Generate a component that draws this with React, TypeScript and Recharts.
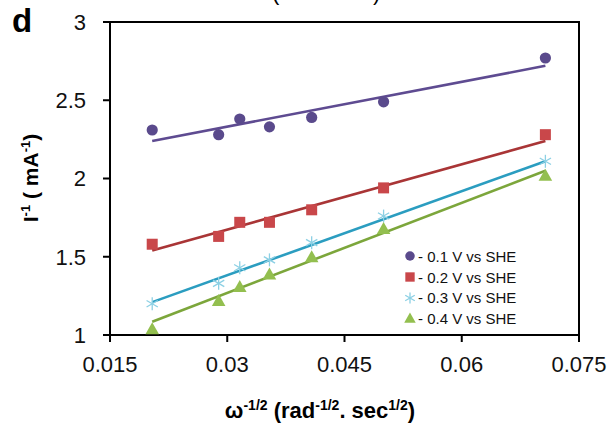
import React from 'react';
import { ScatterChart, Scatter, XAxis, YAxis, ReferenceArea } from 'recharts';

// inverse square root of rotation rate for each run
const omegaInvSqrt = [0.0204, 0.0289, 0.0316, 0.0354, 0.0408, 0.05, 0.0707];

// inverse limiting current (mA^-1) at each potential
const iInv01 = [2.31, 2.28, 2.38, 2.33, 2.39, 2.49, 2.77];
const iInv02 = [1.58, 1.63, 1.72, 1.72, 1.8, 1.94, 2.28];
const iInv03 = [1.2, 1.33, 1.43, 1.48, 1.59, 1.76, 2.11];
const iInv04 = [1.04, 1.22, 1.31, 1.39, 1.5, 1.68, 2.02];

// linear fit values at the first and last rotation rate
const fitX = [0.0204, 0.0707];
const fit01 = [2.24, 2.72];
const fit02 = [1.54, 2.24];
const fit03 = [1.21, 2.11];
const fit04 = [1.085, 2.05];

const seriesNames = ['- 0.1 V vs SHE', '- 0.2 V vs SHE', '- 0.3 V vs SHE', '- 0.4 V vs SHE'];
const xTicks = [0.015, 0.03, 0.045, 0.06, 0.075];
const yTicks = [1, 1.5, 2, 2.5, 3];

const toPoints = (xs: number[], ys: number[]) => xs.map((x, i) => ({ x, y: ys[i] }));

const markerColors = ['#5A4A8C', '#C9474A', '#8CD0E4', '#93BF4F'];
const lineColors = ['#5E4B91', '#A93536', '#2B9DC0', '#7CA63B'];

const FONT = '"Liberation Sans", Arial, sans-serif';

const Marker = ({ kind, cx, cy, color, s = 1 }: any) => {
  if (cx == null || cy == null) return null;
  switch (kind) {
    case 0:
      return <circle cx={cx} cy={cy} r={5.6 * s} fill={color} />;
    case 1:
      return <rect x={cx - 5.5 * s} y={cy - 5.5 * s} width={11 * s} height={11 * s} fill={color} />;
    case 2: {
      const r = 6.5 * s;
      const d = r * 0.866;
      return (
        <g stroke={color} strokeWidth={1.3}>
          <line x1={cx} y1={cy - r} x2={cx} y2={cy + r} />
          <line x1={cx - d} y1={cy - r / 2} x2={cx + d} y2={cy + r / 2} />
          <line x1={cx - d} y1={cy + r / 2} x2={cx + d} y2={cy - r / 2} />
        </g>
      );
    }
    default:
      return (
        <polygon
          points={`${cx},${cy - 6.5 * s} ${cx + 6.8 * s},${cy + 5.5 * s} ${cx - 6.8 * s},${cy + 5.5 * s}`}
          fill={color}
        />
      );
  }
};

const LegendBox = () => (
  <div style={{ position: 'absolute', left: 402, top: 246, fontFamily: FONT, fontSize: 15, color: '#111' }}>
    {seriesNames.map((name, i) => (
      <div key={name} style={{ display: 'flex', alignItems: 'center', height: 20.7 }}>
        <svg width={16} height={16} style={{ marginRight: 0 }}>
          <Marker kind={i} cx={8} cy={8} color={markerColors[i]} s={0.85} />
        </svg>
        <span>{name}</span>
      </div>
    ))}
  </div>
);

export default function App() {
  const measured = [iInv01, iInv02, iInv03, iInv04].map((ys) => toPoints(omegaInvSqrt, ys));
  const fits = [fit01, fit02, fit03, fit04].map((ys) => toPoints(fitX, ys));

  return (
    <div style={{ position: 'absolute', left: 0, top: 0, width: 611, height: 431, background: '#fff' }}>
      <ScatterChart width={611} height={431} margin={{ top: 22, right: 32, bottom: 0, left: 0 }}>
        <XAxis
          type="number"
          dataKey="x"
          domain={[0.015, 0.075]}
          ticks={xTicks}
          height={96}
          stroke="#000"
          strokeWidth={2}
          tickSize={7}
          tickMargin={14}
          tick={{ fill: '#111', fontSize: 22, fontFamily: FONT }}
        />
        <YAxis
          type="number"
          dataKey="y"
          domain={[1, 3]}
          ticks={yTicks}
          width={110}
          stroke="#000"
          strokeWidth={2}
          tickSize={7}
          tickMargin={17}
          tick={{ fill: '#111', fontSize: 22, fontFamily: FONT }}
        />
        <ReferenceArea x1={0.015} x2={0.075} y1={1} y2={3} fill="none" stroke="#000" strokeWidth={2} />
        {fits.map((pts, i) => (
          <Scatter
            key={`fit-${i}`}
            data={pts}
            line={{ stroke: lineColors[i], strokeWidth: 2.6 }}
            lineType="joint"
            shape={() => <g />}
            legendType="none"
            isAnimationActive={false}
          />
        ))}
        {measured.map((pts, i) => (
          <Scatter
            key={seriesNames[i]}
            name={seriesNames[i]}
            data={pts}
            fill={markerColors[i]}
            shape={(p: any) => <Marker kind={i} cx={p.cx} cy={p.cy} color={markerColors[i]} />}
            isAnimationActive={false}
          />
        ))}
      </ScatterChart>

      <LegendBox />

      <div style={{ position: 'absolute', left: 12, top: 4, fontFamily: FONT, fontWeight: 'bold', fontSize: 33, lineHeight: 1 }}>
        d
      </div>
      <div style={{ position: 'absolute', left: 272, top: -18, fontFamily: FONT, fontSize: 22, lineHeight: 1 }}>(</div>
      <div style={{ position: 'absolute', left: 373, top: -18, fontFamily: FONT, fontSize: 22, lineHeight: 1 }}>)</div>
      <div
        style={{
          position: 'absolute',
          left: 30,
          top: 178,
          transform: 'translate(-50%, -50%) rotate(-90deg)',
          whiteSpace: 'nowrap',
          fontFamily: FONT,
          fontWeight: 'bold',
          fontSize: 21,
          lineHeight: 1,
        }}
      >
        I<sup style={{ fontSize: 13 }}>-1</sup> ( mA<sup style={{ fontSize: 13 }}>-1</sup>)
      </div>
      <div
        style={{
          position: 'absolute',
          left: 320,
          top: 410,
          transform: 'translate(-50%, -50%)',
          whiteSpace: 'nowrap',
          fontFamily: FONT,
          fontWeight: 'bold',
          fontSize: 22,
          lineHeight: 1,
        }}
      >
        ω<sup style={{ fontSize: 14 }}>-1/2</sup> (rad<sup style={{ fontSize: 14 }}>-1/2</sup>. sec<sup style={{ fontSize: 14 }}>1/2</sup>)
      </div>
    </div>
  );
}
